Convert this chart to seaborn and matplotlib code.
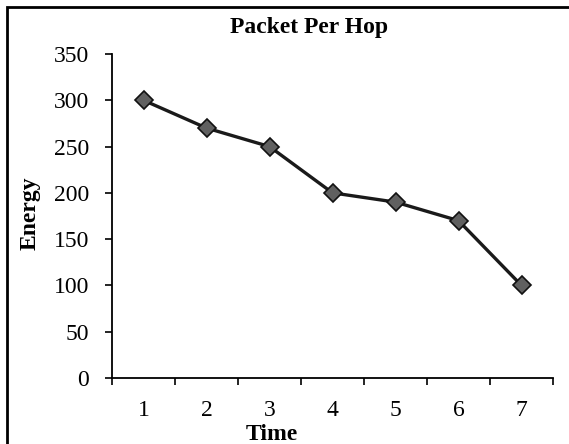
import matplotlib
matplotlib.use('Agg')
import matplotlib.pyplot as plt
import seaborn as sns
import pandas as pd
from matplotlib.patches import Rectangle

time_points = [1, 2, 3, 4, 5, 6, 7]
energy = [300, 270, 250, 200, 190, 170, 100]
y_ticks = [0, 50, 100, 150, 200, 250, 300, 350]

df = pd.DataFrame({'Time': time_points, 'Energy': energy})

sns.set_theme(style="white")
plt.rcParams['font.family'] = ['Liberation Serif', 'DejaVu Serif']

fig = plt.figure(figsize=(5.69, 4.44), dpi=100)
ax = fig.add_axes([112 / 569, 66 / 444, 441 / 569, 324 / 444])

sns.lineplot(data=df, x='Time', y='Energy', ax=ax, color='#1a1a1a', linewidth=2.4,
             marker='D', markersize=9, markerfacecolor='#606060',
             markeredgecolor='#111111', markeredgewidth=1.2)

ax.set_xlim(0.5, 7.5)
ax.set_ylim(0, 350)
ax.set_yticks(y_ticks)
ax.set_yticklabels([str(v) for v in y_ticks], fontsize=17)

# Excel style: ticks between categories, labels at centres
ax.set_xticks([x - 0.5 for x in time_points] + [7.5])
ax.set_xticklabels([])
ax.set_xticks(time_points, minor=True)
ax.set_xticklabels([str(t) for t in time_points], minor=True, fontsize=17)
ax.tick_params(axis='x', which='major', direction='out', length=5, width=1.2, color='black', bottom=True)
ax.tick_params(axis='x', which='minor', length=0, pad=16, labelcolor='black')
ax.tick_params(axis='y', direction='out', length=5, width=1.2, color='black', left=True, pad=11.5,
               labelcolor='black')

for side in ['top', 'right']:
    ax.spines[side].set_visible(False)
for side in ['left', 'bottom']:
    ax.spines[side].set_color('black')
    ax.spines[side].set_linewidth(1.3)

ax.set_xlabel('Time', fontsize=17, fontweight='bold', color='black')
ax.xaxis.set_label_coords(0.363, -0.142)
ax.set_ylabel('Energy', fontsize=17, fontweight='bold', color='black')
ax.yaxis.set_label_coords(-0.163, 0.51)

fig.text(309 / 569, 1 - 28 / 444, 'Packet Per Hop', fontsize=17, fontweight='bold',
         ha='center', va='center', color='black')

# outer chart frame (cropped at right and bottom)
fig.patches.append(Rectangle((7 / 569, -0.1), 1.2, 1.1 - 7 / 444, transform=fig.transFigure,
                             fill=False, edgecolor='black', linewidth=2, zorder=0))

fig.savefig('out.png', dpi=100)
